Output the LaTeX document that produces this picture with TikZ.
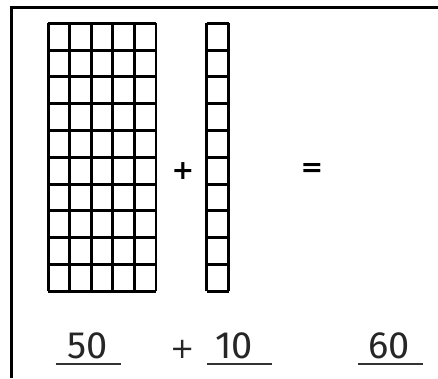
\documentclass[tikz,border=0pt]{standalone}
\usepackage{fontspec}
\setmainfont{Fira Sans}
\newfontfamily\signfont{DejaVu Sans}
\usetikzlibrary{positioning}

\tikzset{
    block/.style={line width=2.9pt, black},
    sign/.style={font=\signfont\bfseries\fontsize{27}{30}\selectfont, text=black, inner sep=0pt},
    number/.style={font=\fontsize{38}{40}\selectfont, text=black!85, inner sep=0pt, anchor=base},
    blank/.style={line width=1.1pt, black!80},
}

\begin{document}
\begin{tikzpicture}[x=1pt, y=-1pt]
    \useasboundingbox (0,0) rectangle (438,378);

    % Frame of the sheet
    \draw[block] (11.5,378) -- (11.5,7.5) -- (438,7.5);

    % Block of fifty (5 x 10)
    \foreach \i in {0,...,5} {
        \draw[block] (48.3+21.54*\i, 23.3) -- (48.3+21.54*\i, 291.3);
    }
    \foreach \j in {0,...,10} {
        \draw[block] (48.3, 23.3+26.8*\j) -- (156, 23.3+26.8*\j);
    }

    % Strip of ten
    \foreach \i in {0,1} {
        \draw[block] (206.7+22*\i, 23.3) -- (206.7+22*\i, 291.3);
    }
    \foreach \j in {0,...,10} {
        \draw[block] (206.7, 23.3+26.8*\j) -- (228.7, 23.3+26.8*\j);
    }

    \node[sign] (plustop) at (183,171) {+};
    \node[sign] (eqtop)   at (312,170) {=};

    % Written sum
    \node[number] (fifty) at (88,358)  {50};
    \node[sign, font=\signfont\fontsize{29}{32}\selectfont, text=black!85] (plus) at (182.5,349) {+};
    \node[number] (ten)   at (234,358) {10};
    \node[number] (sixty) at (389,358) {60};

    \draw[blank] (55.7,364) -- (120.7,364);
    \draw[blank] (206.7,364) -- (271.7,364);
    \draw[blank] (358,364) -- (423,364);

\end{tikzpicture}
\end{document}
